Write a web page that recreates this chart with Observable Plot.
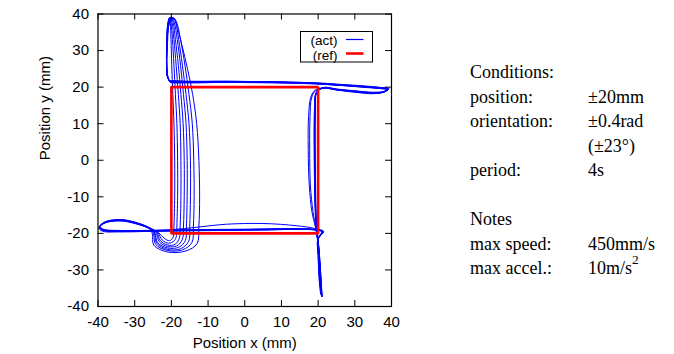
<!DOCTYPE html>
<html><head><meta charset="utf-8">
<script src="https://cdn.jsdelivr.net/npm/d3@7"></script>
<script src="https://cdn.jsdelivr.net/npm/@observablehq/plot@0.6"></script>
<style>
body{margin:0;background:#fff;}
#wrap{position:relative;width:674px;height:354px;overflow:hidden;}
#notes{position:absolute;left:470px;top:60px;font-family:"Liberation Serif","Times New Roman",serif;font-size:18px;color:#000;}
.row{height:24.5px;line-height:24.5px;white-space:nowrap;}
.c1{display:inline-block;width:118px;}
.row sup{font-size:0.75em;line-height:0;position:relative;top:-0.2em;}
#legend{position:absolute;left:0;top:0;}
</style></head><body><div id="wrap"></div>
<script>
const xTicks = [-40,-30,-20,-10,0,10,20,30,40];
const yTicks = [-40,-30,-20,-10,0,10,20,30,40];
const xLabel = "Position x (mm)";
const yLabel = "Position y (mm)";
const legendLabels = ["(act)", "(ref)"];
const refX = [-20, 20, 20, -20, -20];
const refY = [20, 20, -20, -20, 20];
const noteLabels = ["Conditions:", "position:", "orientation:", "", "period:", "", "Notes", "max speed:", "max accel.:"];
const noteValues = ["", "±20mm", "±0.4rad", "(±23°)", "4s", "", "", "450mm/s", "10m/s^2"];

// measured (act) trajectory, one array per cycle: [x, y] in mm
const loop1 = [[-20.3,21.4],[-15,21.2],[-5,21.3],[5,21.3],[15,21.1],[21,20.8],[27,20.4],[33,20.0],[37,19.7],[39,19.4],[38,18.7],[35,18.5],[30,18.9],[25,19.4],[21.5,19.8],
 [19.6,18.5],[19.2,14],[19.1,5],[19.2,-5],[19.3,-14],[19.6,-19],[20.1,-24],[20.6,-31],[20.9,-37],[20.5,-33],[20.1,-26],[20.0,-21.5],[21.2,-19.6],[19.5,-19.0],
 [14,-18.8],[5,-18.9],[-5,-19.0],[-15,-19.1],[-22,-19.2],[-28,-19.3],[-34,-19.3],[-38.5,-19.0],[-39.6,-18.2],[-38,-17.0],[-34,-16.5],[-30,-17.2],[-26,-18.6],[-23.5,-19.8],
 [-22,-21.3],[-20.5,-22],[-19.5,-21],
 [-19.3,-18],[-19.1,-10],[-19.1,0],[-19.3,10],[-19.6,18],[-19.9,26],[-20.1,33],[-20.3,37.5],[-20.6,38.8],[-21.0,37],[-21.2,31],[-21.2,26],[-21.0,23],[-20.4,21.5]];
const loop2 = [[-20.4,21.6],[-15,21.5],[-5,21.6],[5,21.5],[15,21.3],[21,21.0],[27,20.6],[33,20.2],[37,19.9],[39.2,19.6],[38.2,18.9],[35,18.6],[30,19.0],[25,19.5],[21.5,19.9],
 [19.5,18.4],[19.0,14],[18.9,5],[19.0,-5],[19.2,-14],[19.6,-19.2],[20.2,-24],[20.7,-31],[21.0,-37.3],[20.6,-33],[20.2,-26],[20.0,-21.5],[21.3,-19.7],[19.5,-19.1],
 [14,-18.9],[5,-19.0],[-5,-19.1],[-15,-19.2],[-22,-19.3],[-28,-19.4],[-34,-19.5],[-38.7,-19.2],[-39.7,-18.4],[-38.2,-17.1],[-34,-16.3],[-30,-17.0],[-26,-18.5],[-23.8,-19.7],
 [-22.5,-21.8],[-20.8,-22.7],[-19.2,-22],[-18.6,-20.6],
 [-18.5,-18],[-18.3,-10],[-18.3,0],[-18.5,10],[-18.9,18],[-19.3,26],[-19.7,33],[-20.1,37.5],[-20.5,39],[-21.0,37.2],[-21.3,31],[-21.3,26],[-21.1,23],[-20.5,21.7]];
const loop3 = [[-20.3,21.5],[-15,21.4],[-5,21.5],[5,21.4],[15,21.2],[21,20.9],[27,20.5],[33,20.1],[37,19.8],[38.9,19.5],[38,18.8],[35,18.4],[30,18.8],[25,19.3],[21.5,19.8],
 [19.2,19.2],[18.0,17.2],[17.4,12],[17.3,3],[17.6,-7],[18.3,-14],[19.3,-18.5],[20.0,-23],[20.5,-30],[20.8,-36.6],[20.4,-33],[20.0,-26],[19.9,-21.5],[21.0,-19.5],[19.4,-19.0],
 [14,-18.7],[5,-18.8],[-5,-18.9],[-15,-19.0],[-22,-19.1],[-28,-19.2],[-34,-19.2],[-38.4,-18.9],[-39.5,-18.1],[-38,-16.8],[-34,-16.2],[-30,-16.9],[-26,-18.4],[-24,-19.8],
 [-23,-22],[-21,-23.2],[-19,-23],[-17.8,-21.2],
 [-17.6,-18],[-17.4,-10],[-17.4,0],[-17.6,10],[-18.1,18],[-18.7,26],[-19.3,33],[-19.8,37.6],[-20.3,39.1],[-20.9,37.4],[-21.3,31],[-21.3,26],[-21.1,23],[-20.5,21.6]];
const loop4 = [[-20.3,21.4],[-15,21.3],[-5,21.4],[5,21.4],[15,21.2],[21,20.9],[27,20.5],[33,20.0],[37,19.6],[38.8,19.3],[37.8,18.6],[35,18.3],[30,18.7],[25,19.3],[21.5,19.8],
 [19.6,18.6],[19.3,14],[19.2,5],[19.3,-5],[19.4,-14],[19.7,-19],[20.2,-24],[20.6,-31],[20.9,-37],[20.5,-33],[20.1,-26],[20.0,-21.5],[21.4,-19.6],[19.2,-18.7],
 [14,-17.9],[5,-17.3],[-5,-17.5],[-13,-18.3],[-20,-19.0],[-28,-19.3],[-34,-19.4],[-38.6,-19.1],[-39.6,-18.3],[-38.1,-17.0],[-34,-16.4],[-30,-17.1],[-26,-18.6],[-24.2,-19.8],
 [-23.3,-22.3],[-21,-23.6],[-18.5,-23.4],[-17,-21.6],
 [-16.7,-18],[-16.5,-10],[-16.5,0],[-16.8,10],[-17.4,18],[-18.1,26],[-18.9,33],[-19.5,37.6],[-20.1,39.1],[-20.8,37.5],[-21.2,31],[-21.3,26],[-21.1,23],[-20.5,21.6]];
const loop5 = [[-20.4,21.7],[-15,21.6],[-5,21.6],[5,21.5],[15,21.3],[21,21.1],[27,20.7],[33,20.3],[37,19.9],[39.3,19.6],[38.3,18.8],[35,18.5],[30,18.9],[25,19.4],[21.5,19.9],
 [19.5,18.5],[19.1,14],[19.0,5],[19.1,-5],[19.3,-14],[19.6,-19.1],[20.1,-24],[20.6,-31],[21.0,-37.2],[20.6,-33],[20.2,-26],[20.1,-21.5],[21.3,-19.5],[19.5,-19.0],
 [14,-18.8],[5,-18.9],[-5,-19.0],[-15,-19.1],[-22,-19.3],[-28,-19.5],[-34,-19.6],[-38.8,-19.4],[-39.8,-18.5],[-38.3,-17.2],[-34,-16.5],[-30,-17.1],[-26,-18.6],[-24.5,-19.9],
 [-23.8,-22.5],[-21,-24],[-18,-23.8],[-16.2,-22],
 [-15.9,-18],[-15.7,-10],[-15.7,0],[-16.0,10],[-16.7,18],[-17.5,26],[-18.4,33],[-19.2,37.7],[-19.9,39.1],[-20.7,37.5],[-21.2,31],[-21.3,26],[-21.1,23],[-20.5,21.6]];
const loop6 = [[-20.3,21.3],[-15,21.2],[-5,21.3],[5,21.2],[15,21.0],[21,20.8],[27,20.4],[33,19.9],[37,19.6],[38.7,19.3],[37.7,18.6],[35,18.2],[30,18.6],[25,19.2],[21.5,19.7],
 [19.3,19.0],[18.2,17],[17.8,12],[17.7,3],[17.9,-7],[18.6,-14],[19.4,-18.7],[20.0,-23],[20.5,-30],[20.7,-36.5],[20.3,-33],[20.0,-26],[19.9,-21.5],[21.1,-19.5],[19.4,-19.0],
 [14,-18.9],[5,-19.1],[-5,-19.2],[-15,-19.3],[-22,-19.4],[-28,-19.4],[-34,-19.4],[-38.5,-19.1],[-39.5,-18.3],[-38,-17.1],[-34,-16.6],[-30,-17.3],[-26,-18.7],[-24.7,-19.9],
 [-24,-22.7],[-21,-24.4],[-17.5,-24.2],[-15.3,-22.2],
 [-15,-18],[-14.8,-10],[-14.8,0],[-15.2,10],[-16.0,18],[-17.0,26],[-18.0,33],[-18.9,37.8],[-19.7,39.0],[-20.6,37.6],[-21.2,31],[-21.3,26],[-21.1,23],[-20.5,21.6]];
const loop7 = [[-20.4,21.6],[-15,21.5],[-5,21.5],[5,21.4],[15,21.2],[21,21.0],[27,20.6],[33,20.1],[37,19.8],[39,19.5],[38,18.7],[35,18.4],[30,18.8],[25,19.3],[21.5,19.8],
 [19.6,18.6],[19.2,14],[19.1,5],[19.2,-5],[19.4,-14],[19.7,-19],[20.2,-24],[20.7,-31],[21.1,-37.4],[20.7,-33],[20.2,-26],[20.0,-21.5],[21.5,-19.4],[19.4,-19.0],
 [14,-18.8],[5,-18.9],[-5,-19.0],[-15,-19.1],[-22,-19.2],[-28,-19.3],[-34,-19.3],[-38.6,-19.0],[-39.6,-18.2],[-38.1,-16.9],[-34,-16.3],[-30,-17.0],[-26,-18.6],[-24.9,-20.0],
 [-24.3,-23],[-21,-24.7],[-17,-24.5],[-14.4,-22.5],
 [-14,-18],[-13.8,-10],[-13.9,0],[-14.3,10],[-15.2,18],[-16.3,26],[-17.5,33],[-18.6,37.8],[-19.5,39.0],[-20.5,37.6],[-21.1,31],[-21.3,26],[-21.1,23],[-20.5,21.6]];
const loop8 = [[-20.4,21.5],[-15,21.4],[-5,21.4],[5,21.3],[15,21.1],[21,20.9],[27,20.5],[33,20.1],[37,19.7],[39.1,19.4],[38.1,18.7],[35,18.4],[30,18.8],[25,19.3],[21.5,19.8],
 [19.5,18.5],[19.1,14],[19.0,5],[19.1,-5],[19.3,-14],[19.6,-19],[20.1,-24],[20.6,-31],[20.9,-36.8],[20.5,-33],[20.1,-26],[20.0,-21.5],[21.2,-19.6],[19.4,-19.1],
 [14,-18.9],[5,-19.0],[-5,-19.1],[-15,-19.2],[-22,-19.3],[-28,-19.4],[-34,-19.4],[-38.6,-19.1],[-39.6,-18.3],[-38.1,-17.0],[-34,-16.4],[-30,-17.1],[-26,-18.6],[-25.2,-20.1],
 [-24.8,-23.2],[-21,-25.1],[-16,-24.8],[-13,-22.8],
 [-12.5,-18],[-12.3,-10],[-12.5,0],[-13.1,10],[-14.2,18],[-15.6,25],[-17.0,31],[-18.3,36],[-19.2,38.7],[-20.2,38.6],[-21.0,35],[-21.3,29],[-21.2,24],[-20.6,21.8]];

const act = [loop1, loop2, loop3, loop4, loop5, loop6, loop7, loop8].flat();
const ref = refX.map((x, i) => ({x, y: refY[i]}));

const W = 674, H = 354;
const mL = 97.5, mR = 283, mT = 13.5, mB = 48;
const fw = W - mL - mR, fh = H - mT - mB;
const BLUE = "#0000ff", RED = "#ff0000";
const fmt = d => String(d);

const chart = Plot.plot({
  width: W, height: H,
  marginLeft: mL, marginRight: mR, marginTop: mT, marginBottom: mB,
  style: {fontFamily: "'Liberation Sans', Arial, sans-serif", background: "#fff", color: "#000"},
  x: {domain: [-40, 40]},
  y: {domain: [-40, 40]},
  marks: [
    Plot.line(act, {x: d => d[0], y: d => d[1], stroke: BLUE, strokeWidth: 1, curve: "catmull-rom"}),
    Plot.line(ref, {x: "x", y: "y", stroke: RED, strokeWidth: 2.6, strokeLinejoin: "miter"}),
    Plot.tickX(xTicks, {x: d => d, insetTop: fh - 6, stroke: "#000"}),
    Plot.tickX(xTicks, {x: d => d, insetBottom: fh - 6, stroke: "#000"}),
    Plot.tickY(yTicks, {y: d => d, insetRight: fw - 6, stroke: "#000"}),
    Plot.tickY(yTicks, {y: d => d, insetLeft: fw - 6, stroke: "#000"}),
    Plot.frame({stroke: "#000", strokeWidth: 1.2}),
    Plot.axisX(xTicks, {anchor: "bottom", tickSize: 0, tickPadding: 10, fontSize: 15, label: null, tickFormat: fmt}),
    Plot.axisY(yTicks, {anchor: "left", tickSize: 0, tickPadding: 9, fontSize: 15, label: null, tickFormat: fmt}),
    Plot.text([xLabel], {frameAnchor: "bottom", dy: 37, lineAnchor: "middle", text: d => d, fontSize: 15}),
    Plot.text([yLabel], {frameAnchor: "left", dx: -52.5, rotate: -90, lineAnchor: "middle", text: d => d, fontSize: 15})
  ]
});
const wrap = document.getElementById("wrap");
wrap.appendChild(chart);

// legend box (inside plot, top right)
const lg = d3.select(wrap).append("svg").attr("id", "legend").attr("width", W).attr("height", H)
  .style("font-family", "'Liberation Sans', Arial, sans-serif");
lg.append("rect").attr("x", 300.5).attr("y", 31.5).attr("width", 72).attr("height", 30.5)
  .attr("fill", "#fff").attr("stroke", "#000").attr("stroke-width", 1);
const legendColors = [BLUE, RED], legendWidths = [1.2, 2.6];
const legendTextY = [39.8, 54.8], legendLineY = [39.5, 53.5];
legendLabels.forEach((t, i) => {
  lg.append("text").attr("x", 337.5).attr("y", legendTextY[i]).attr("dy", "0.35em")
    .attr("text-anchor", "end").attr("font-size", 13.5).text(t);
  lg.append("line").attr("x1", 346).attr("x2", 363.5).attr("y1", legendLineY[i]).attr("y2", legendLineY[i])
    .attr("stroke", legendColors[i]).attr("stroke-width", legendWidths[i]);
});

// conditions / notes text
const notes = document.createElement("div");
notes.id = "notes";
noteLabels.forEach((lab, i) => {
  const row = document.createElement("div");
  row.className = "row";
  const c1 = document.createElement("span");
  c1.className = "c1";
  c1.textContent = lab;
  row.appendChild(c1);
  const c2 = document.createElement("span");
  const v = noteValues[i];
  if (v.includes("^")) {
    const [base, sup] = v.split("^");
    c2.appendChild(document.createTextNode(base));
    const s = document.createElement("sup");
    s.textContent = sup;
    c2.appendChild(s);
  } else {
    c2.textContent = v;
  }
  row.appendChild(c2);
  notes.appendChild(row);
});
wrap.appendChild(notes);
</script>
</body></html>
